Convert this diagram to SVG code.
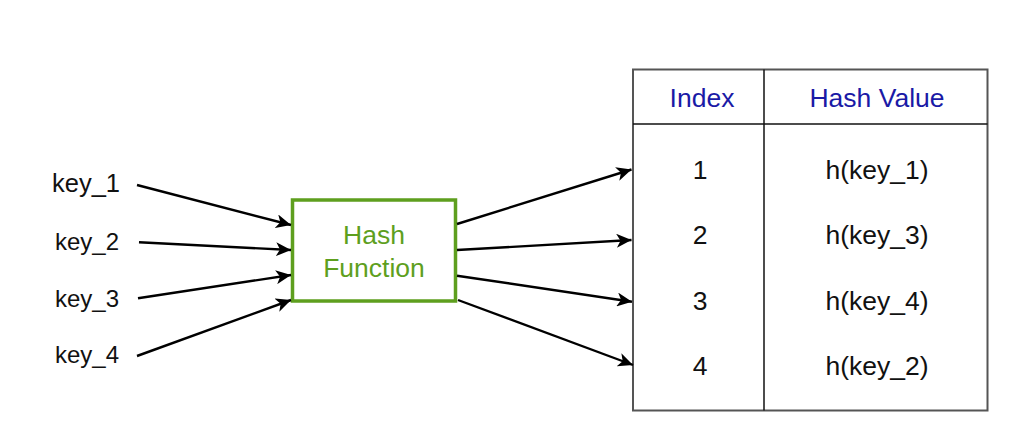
<svg xmlns="http://www.w3.org/2000/svg" width="1020" height="442" viewBox="0 0 1020 442">
<style>
.key{font-family:"Liberation Sans",Arial,sans-serif;font-size:24px;fill:#111;}
.hf{font-family:"Liberation Sans",Arial,sans-serif;font-size:26.5px;fill:#5E9F1E;text-anchor:middle;}
.hd{font-family:"Liberation Sans",Arial,sans-serif;font-size:26.5px;fill:#1A1AA6;text-anchor:middle;}
.cell{font-family:"Liberation Sans",Arial,sans-serif;font-size:26.5px;fill:#111;text-anchor:middle;}
.edge{stroke:#000;stroke-width:2.4;fill:none;marker-end:url(#arr);}
</style>
<defs>
<marker id="arr" markerUnits="userSpaceOnUse" markerWidth="16" markerHeight="14" refX="15" refY="7" orient="auto">
<path d="M0,0 L15,7 L0,14 L4,7 Z" fill="#000"/>
</marker>
</defs>
<rect width="1020" height="442" fill="#fff"/>
<g id="key_1"><text class="key" x="52" y="192" style="font-size:25.5px">key_1</text></g>
<g id="key_2"><text class="key" x="55" y="250">key_2</text></g>
<g id="key_3"><text class="key" x="55" y="307">key_3</text></g>
<g id="key_4"><text class="key" x="55" y="363">key_4</text></g>
<g id="hash_function">
<rect x="292.5" y="200" width="163" height="101" fill="#fff" stroke="#5E9F1E" stroke-width="3.5"/>
<text class="hf" x="374" y="244">Hash</text>
<text class="hf" x="374" y="277">Function</text>
</g>
<g id="table">
<rect x="633" y="69.5" width="354.5" height="341" fill="#fff" stroke="#555" stroke-width="2"/>
<line x1="633" y1="124" x2="987.5" y2="124" stroke="#111" stroke-width="1.5"/>
<line x1="764" y1="69.5" x2="764" y2="410.5" stroke="#111" stroke-width="1.5"/>
<text class="hd" x="702" y="107">Index</text>
<text class="hd" x="877" y="107">Hash Value</text>
<text class="cell" x="700" y="179">1</text>
<text class="cell" x="877" y="179">h(key_1)</text>
<text class="cell" x="700" y="244">2</text>
<text class="cell" x="877" y="244">h(key_3)</text>
<text class="cell" x="700" y="310">3</text>
<text class="cell" x="877" y="310">h(key_4)</text>
<text class="cell" x="700" y="375">4</text>
<text class="cell" x="877" y="375">h(key_2)</text>
</g>
<g id="connectors">
<line class="edge" x1="137" y1="185" x2="291" y2="225"/>
<line class="edge" x1="139" y1="242.3" x2="291" y2="250"/>
<line class="edge" x1="138" y1="298.3" x2="291" y2="275"/>
<line class="edge" x1="137" y1="356" x2="291" y2="300"/>
<line class="edge" x1="457" y1="224" x2="631.5" y2="169.5"/>
<line class="edge" x1="457" y1="250" x2="631.5" y2="240"/>
<line class="edge" x1="457" y1="275.7" x2="632" y2="301.7"/>
<line class="edge" x1="458" y1="300" x2="633" y2="365"/>
</g>
</svg>
